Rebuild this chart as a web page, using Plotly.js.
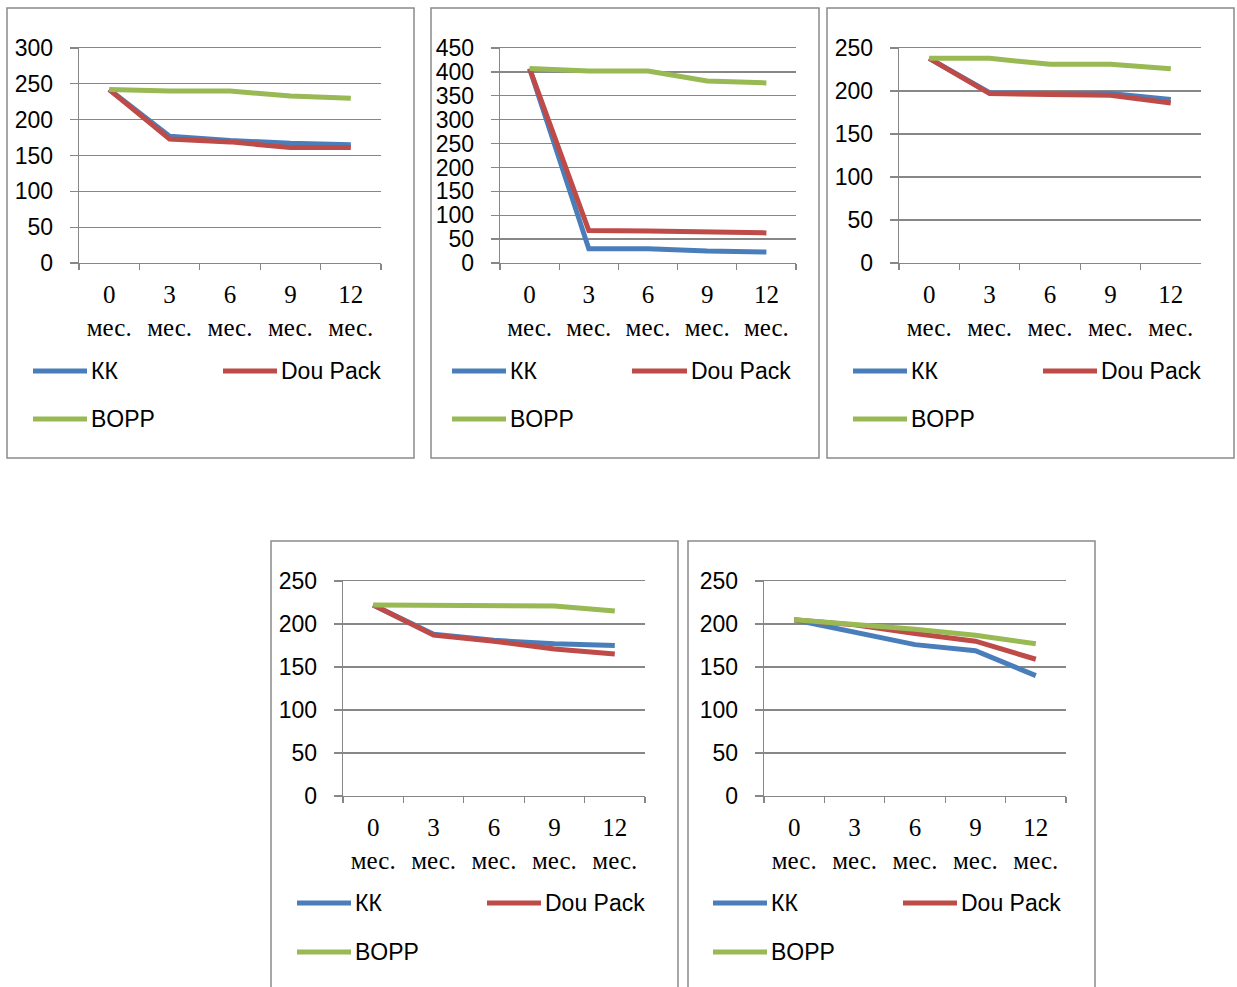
<!DOCTYPE html>
<html>
<head>
<meta charset="utf-8">
<script src="https://cdn.plot.ly/plotly-3.0.1.min.js"></script>
<style>html,body{margin:0;padding:0;background:#fff;}#chart{width:1237px;height:987px;}</style>
</head>
<body>
<div id="chart"></div>
<script>
// ---- data ----
const months = ["0<br>мес.", "3<br>мес.", "6<br>мес.", "9<br>мес.", "12<br>мес."];
const seriesNames = ["КК", "Dou Pack", "BOPP"];

const p1_KK      = [242, 177, 171, 167, 165];
const p1_DouPack = [242, 173, 169, 161, 161];
const p1_BOPP    = [242, 240, 240, 233, 230];

const p2_KK      = [407, 30, 30, 25, 23];
const p2_DouPack = [407, 68, 67, 66, 63];
const p2_BOPP    = [407, 402, 402, 381, 377];

const p3_KK      = [238, 198, 197, 197, 190];
const p3_DouPack = [238, 197, 196, 195, 186];
const p3_BOPP    = [238, 238, 231, 231, 226];

const p4_KK      = [222, 188, 181, 177, 175];
const p4_DouPack = [222, 187, 180, 171, 165];
const p4_BOPP    = [222, 222, 221, 221, 215];

const p5_KK      = [205, 191, 176, 169, 140];
const p5_DouPack = [205, 199, 189, 180, 159];
const p5_BOPP    = [205, 200, 194, 187, 177];

const yMax = [300, 450, 250, 250, 250];

// ---- layout helpers ----
const W = 1237, H = 987;
const px = v => v / W;
const py = v => 1 - v / H;
const colors = ["#4A7EBB", "#BE4B48", "#98B954"];
const gridCol = "#878787";

const panels = [
  {data: [p1_KK, p1_DouPack, p1_BOPP], ax: [79, 381, 48, 263], box: [7, 414, 8, 458],
   leg: {l1: [33, 87], t1: 91, l2: [223, 277], t2: 281, r1: 371, r2: 419}},
  {data: [p2_KK, p2_DouPack, p2_BOPP], ax: [500, 796, 48, 263], box: [431, 819, 8, 458],
   leg: {l1: [452, 506], t1: 510, l2: [632, 687], t2: 691, r1: 371, r2: 419}},
  {data: [p3_KK, p3_DouPack, p3_BOPP], ax: [899, 1201, 48, 263], box: [827, 1234, 8, 458],
   leg: {l1: [853, 907], t1: 911, l2: [1043, 1097], t2: 1101, r1: 371, r2: 419}},
  {data: [p4_KK, p4_DouPack, p4_BOPP], ax: [343, 645, 581, 796], box: [271, 678, 541, 995],
   leg: {l1: [297, 351], t1: 355, l2: [487, 541], t2: 545, r1: 903, r2: 952}},
  {data: [p5_KK, p5_DouPack, p5_BOPP], ax: [764, 1066, 581, 796], box: [688, 1095, 541, 995],
   leg: {l1: [713, 767], t1: 771, l2: [903, 957], t2: 961, r1: 903, r2: 952}}
];

const traces = [];
const layout = {
  width: W, height: H,
  margin: {l: 0, r: 0, t: 0, b: 0},
  paper_bgcolor: "#fff", plot_bgcolor: "#fff",
  showlegend: false,
  shapes: [], annotations: []
};

panels.forEach((p, i) => {
  const n = i + 1;
  const xa = "xaxis" + (n === 1 ? "" : n), ya = "yaxis" + (n === 1 ? "" : n);
  const xr = "x" + (n === 1 ? "" : n), yr = "y" + (n === 1 ? "" : n);
  p.data.forEach((vals, k) => {
    traces.push({
      type: "scatter", mode: "lines", x: months, y: vals, name: seriesNames[k],
      xaxis: xr, yaxis: yr, line: {color: colors[k], width: 5}, hoverinfo: "skip"
    });
  });
  layout[xa] = {
    domain: [px(p.ax[0]), px(p.ax[1])], anchor: yr, type: "category",
    range: [-0.5, 4.5], tickson: "boundaries", ticks: "outside", ticklen: 6,
    tickcolor: gridCol, tickwidth: 1.3, showline: true, mirror: true, linecolor: gridCol, linewidth: 1.3,
    showgrid: false, zeroline: false, fixedrange: true, ticklabelstandoff: 9,
    tickfont: {family: "Liberation Serif", size: 25, color: "#000"}
  };
  layout[ya] = {
    domain: [py(p.ax[3]), py(p.ax[2])], anchor: xr,
    range: [0, yMax[i]], dtick: 50, tick0: 0, ticks: "outside", ticklen: 8,
    tickcolor: gridCol, tickwidth: 1.3, showline: true, linecolor: gridCol, linewidth: 1.3,
    showgrid: true, gridcolor: gridCol, gridwidth: 1.3, zeroline: false, fixedrange: true,
    ticklabelstandoff: 12,
    tickfont: {family: "Liberation Sans", size: 23, color: "#000"}
  };
  // panel border
  layout.shapes.push({type: "rect", xref: "paper", yref: "paper",
    x0: px(p.box[0]), x1: px(p.box[1]), y0: py(p.box[3]), y1: py(p.box[2]),
    line: {color: "#8a8a8a", width: 1.5}, fillcolor: "rgba(0,0,0,0)", layer: "below"});
  // legend
  const L = p.leg;
  const entries = [
    {seg: L.l1, tx: L.t1, row: L.r1, k: 0},
    {seg: L.l2, tx: L.t2, row: L.r1, k: 1},
    {seg: L.l1, tx: L.t1, row: L.r2, k: 2}
  ];
  entries.forEach(e => {
    layout.shapes.push({type: "line", xref: "paper", yref: "paper",
      x0: px(e.seg[0]), x1: px(e.seg[1]), y0: py(e.row), y1: py(e.row),
      line: {color: colors[e.k], width: 5}});
    layout.annotations.push({xref: "paper", yref: "paper", x: px(e.tx), y: py(e.row),
      xanchor: "left", yanchor: "middle", showarrow: false, text: seriesNames[e.k],
      xshift: -2, font: {family: "Liberation Sans", size: 23, color: "#000"}});
  });
});

Plotly.newPlot("chart", traces, layout, {staticPlot: true, displayModeBar: false});
</script>
</body>
</html>
